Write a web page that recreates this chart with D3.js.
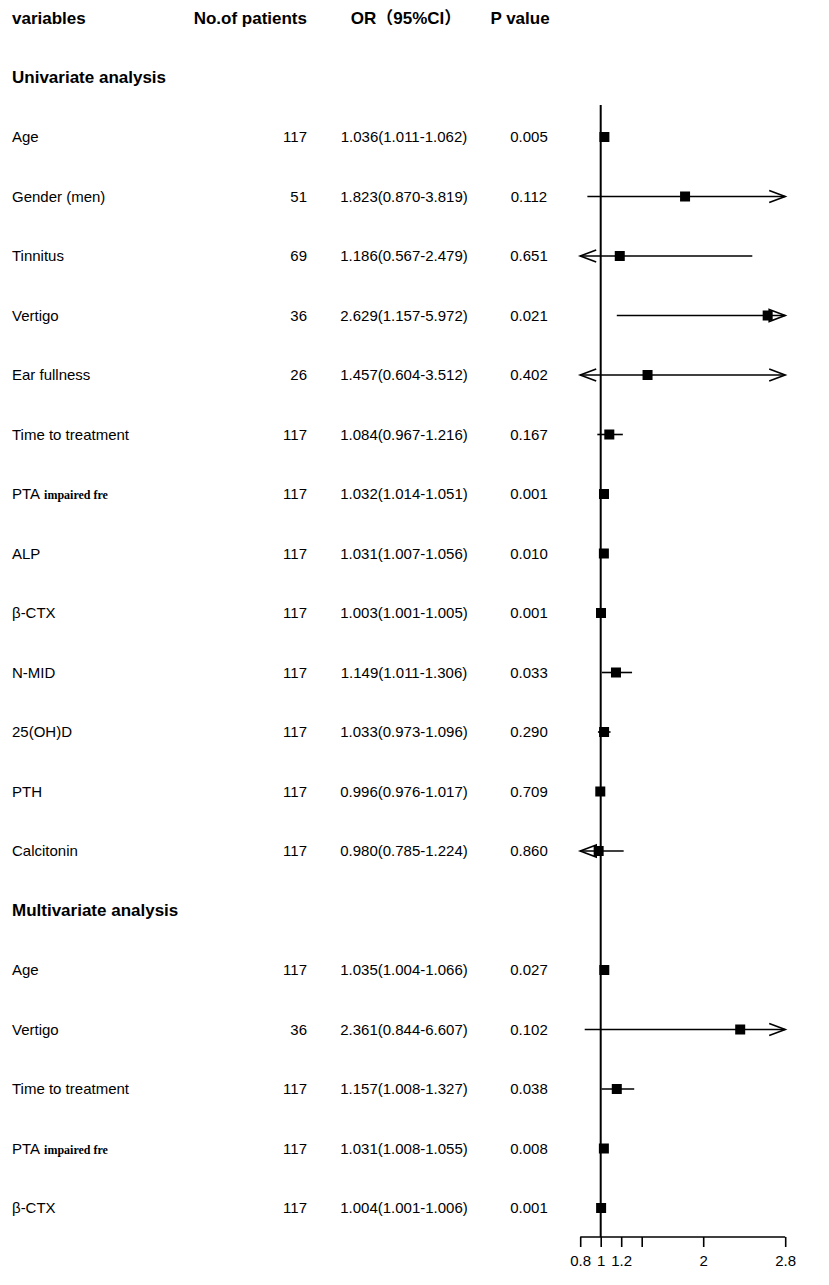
<!DOCTYPE html>
<html>
<head>
<meta charset="utf-8">
<script src="https://cdn.jsdelivr.net/npm/d3@7"></script>
<style>
  body { margin: 0; background: #fff; }
  text { font-family: "Liberation Sans", Arial, "Noto Sans CJK SC", sans-serif; fill: #000; }
  .head { font-weight: bold; font-size: 17px; }
  .row { font-size: 15px; }
  .axis text { font-size: 15px; }
</style>
</head>
<body>
<div class="chart"></div>
<script>
// rows, top to bottom (section titles have no values)
var variables = ["Univariate analysis", "Age", "Gender (men)", "Tinnitus", "Vertigo", "Ear fullness",
  "Time to treatment", "PTA", "ALP", "β-CTX", "N-MID", "25(OH)D", "PTH", "Calcitonin",
  "Multivariate analysis", "Age", "Vertigo", "Time to treatment", "PTA", "β-CTX"];
var subLabels = ["", "", "", "", "", "", "", "impaired fre", "", "", "", "", "", "",
  "", "", "", "", "impaired fre", ""];
var patients = [null, 117, 51, 69, 36, 26, 117, 117, 117, 117, 117, 117, 117, 117,
  null, 117, 36, 117, 117, 117];
var oddsRatio = [null, 1.036, 1.823, 1.186, 2.629, 1.457, 1.084, 1.032, 1.031, 1.003, 1.149, 1.033, 0.996, 0.980,
  null, 1.035, 2.361, 1.157, 1.031, 1.004];
var lowerCI = [null, 1.011, 0.870, 0.567, 1.157, 0.604, 0.967, 1.014, 1.007, 1.001, 1.011, 0.973, 0.976, 0.785,
  null, 1.004, 0.844, 1.008, 1.008, 1.001];
var upperCI = [null, 1.062, 3.819, 2.479, 5.972, 3.512, 1.216, 1.051, 1.056, 1.005, 1.306, 1.096, 1.017, 1.224,
  null, 1.066, 6.607, 1.327, 1.055, 1.006];
var pValues = ["", "0.005", "0.112", "0.651", "0.021", "0.402", "0.167", "0.001", "0.010", "0.001", "0.033",
  "0.290", "0.709", "0.860", "", "0.027", "0.102", "0.038", "0.008", "0.001"];
var headers = ["variables", "No.of patients", "OR（95%CI）", "P value"];
var tickValues = [0.8, 1, 1.2, 1.4, 2, 2.8];
var tickLabels = ["0.8", "1", "1.2", "", "2", "2.8"];

var W = 829, H = 1285;
var svg = d3.select(".chart").append("svg")
  .attr("width", W)
  .attr("height", H);

var rowY = d3.scaleLinear().domain([0, 20]).range([18, 1208]);
var xScale = d3.scaleLinear().domain([0.8, 2.8]).range([580.2, 785.2]);
var fmt = d3.format(".3f");
var axisY = 1237;
var boxSize = 10;

// header
var headX = [12, 307, 406, 520];
var headAnchor = ["start", "end", "middle", "middle"];
svg.selectAll(".head")
  .data(headers)
  .enter()
  .append("text")
  .attr("class", "head")
  .attr("x", function(d, i) { return headX[i]; })
  .attr("y", rowY(0))
  .attr("dy", "0.35em")
  .attr("text-anchor", function(d, i) { return headAnchor[i]; })
  .text(function(d) { return d; });

var rows = variables.map(function(v, i) {
  return {
    label: v, sub: subLabels[i], n: patients[i], or: oddsRatio[i],
    lo: lowerCI[i], hi: upperCI[i], p: pValues[i], y: rowY(i + 1)
  };
});

// labels
var lab = svg.selectAll(".lab")
  .data(rows)
  .enter()
  .append("text")
  .attr("class", function(d) { return d.or == null ? "head" : "row"; })
  .attr("x", 12)
  .attr("y", function(d) { return d.y; })
  .attr("dy", "0.35em");
lab.append("tspan").text(function(d) { return d.label; });
lab.filter(function(d) { return d.sub; })
  .append("tspan")
  .attr("dx", 4)
  .style("font-family", "'Liberation Serif', 'Times New Roman', serif")
  .style("font-weight", "bold")
  .style("font-size", "12px")
  .text(function(d) { return d.sub; });

var data = rows.filter(function(d) { return d.or != null; });

svg.selectAll(".n")
  .data(data)
  .enter()
  .append("text")
  .attr("class", "row")
  .attr("x", 307)
  .attr("y", function(d) { return d.y; })
  .attr("dy", "0.35em")
  .attr("text-anchor", "end")
  .text(function(d) { return d.n; });

svg.selectAll(".ci")
  .data(data)
  .enter()
  .append("text")
  .attr("class", "row")
  .attr("x", 404)
  .attr("y", function(d) { return d.y; })
  .attr("dy", "0.35em")
  .attr("text-anchor", "middle")
  .text(function(d) { return fmt(d.or) + "(" + fmt(d.lo) + "-" + fmt(d.hi) + ")"; });

svg.selectAll(".pv")
  .data(data)
  .enter()
  .append("text")
  .attr("class", "row")
  .attr("x", 529)
  .attr("y", function(d) { return d.y; })
  .attr("dy", "0.35em")
  .attr("text-anchor", "middle")
  .text(function(d) { return d.p; });

// reference line at OR = 1
svg.append("line")
  .attr("x1", xScale(1)).attr("x2", xScale(1))
  .attr("y1", 105).attr("y2", axisY)
  .attr("stroke", "#000")
  .attr("stroke-width", 2);

// confidence intervals, clipped with arrows
var xmin = xScale.domain()[0], xmax = xScale.domain()[1];
svg.selectAll(".ciline")
  .data(data)
  .enter()
  .append("line")
  .attr("x1", function(d) { return xScale(Math.max(d.lo, xmin)); })
  .attr("x2", function(d) { return xScale(Math.min(d.hi, xmax)); })
  .attr("y1", function(d) { return d.y; })
  .attr("y2", function(d) { return d.y; })
  .attr("stroke", "#000")
  .attr("stroke-width", 1.6);

var arrows = [];
data.forEach(function(d) {
  if (d.lo < xmin) arrows.push({ x: xScale(xmin), dir: -1, y: d.y, close: Math.abs(xScale(d.or) - xScale(xmin)) < 25 });
  if (d.hi > xmax) arrows.push({ x: xScale(xmax), dir: 1, y: d.y, close: Math.abs(xScale(d.or) - xScale(xmax)) < 25 });
});
svg.selectAll(".arrow")
  .data(arrows)
  .enter()
  .append("path")
  .attr("d", function(a) {
    var bx = a.x - a.dir * 16;
    return "M" + bx + "," + (a.y - 6) + "L" + a.x + "," + a.y + "L" + bx + "," + (a.y + 6) + (a.close ? "Z" : "");
  })
  .attr("fill", "none")
  .attr("stroke", "#000")
  .attr("stroke-width", 1.6);

svg.selectAll(".box")
  .data(data)
  .enter()
  .append("rect")
  .attr("x", function(d) { return xScale(d.or) - boxSize / 2; })
  .attr("y", function(d) { return d.y - boxSize / 2; })
  .attr("width", boxSize)
  .attr("height", boxSize)
  .attr("fill", "#000");

// x axis
var xAxis = d3.axisBottom(xScale)
  .tickValues(tickValues)
  .tickFormat(function(d, i) { return tickLabels[i]; })
  .tickSize(10)
  .tickPadding(8);
var gx = svg.append("g")
  .attr("class", "axis")
  .attr("transform", "translate(0," + axisY + ")")
  .call(xAxis);
gx.select(".domain").attr("stroke-width", 1.6).attr("d", "M" + xScale(xmin) + ",0H" + xScale(xmax));
gx.selectAll(".tick line").attr("stroke-width", 1.6);
gx.selectAll("text").attr("fill", "#000").style("font-family", "'Liberation Sans', Arial, sans-serif");
</script>
</body>
</html>
